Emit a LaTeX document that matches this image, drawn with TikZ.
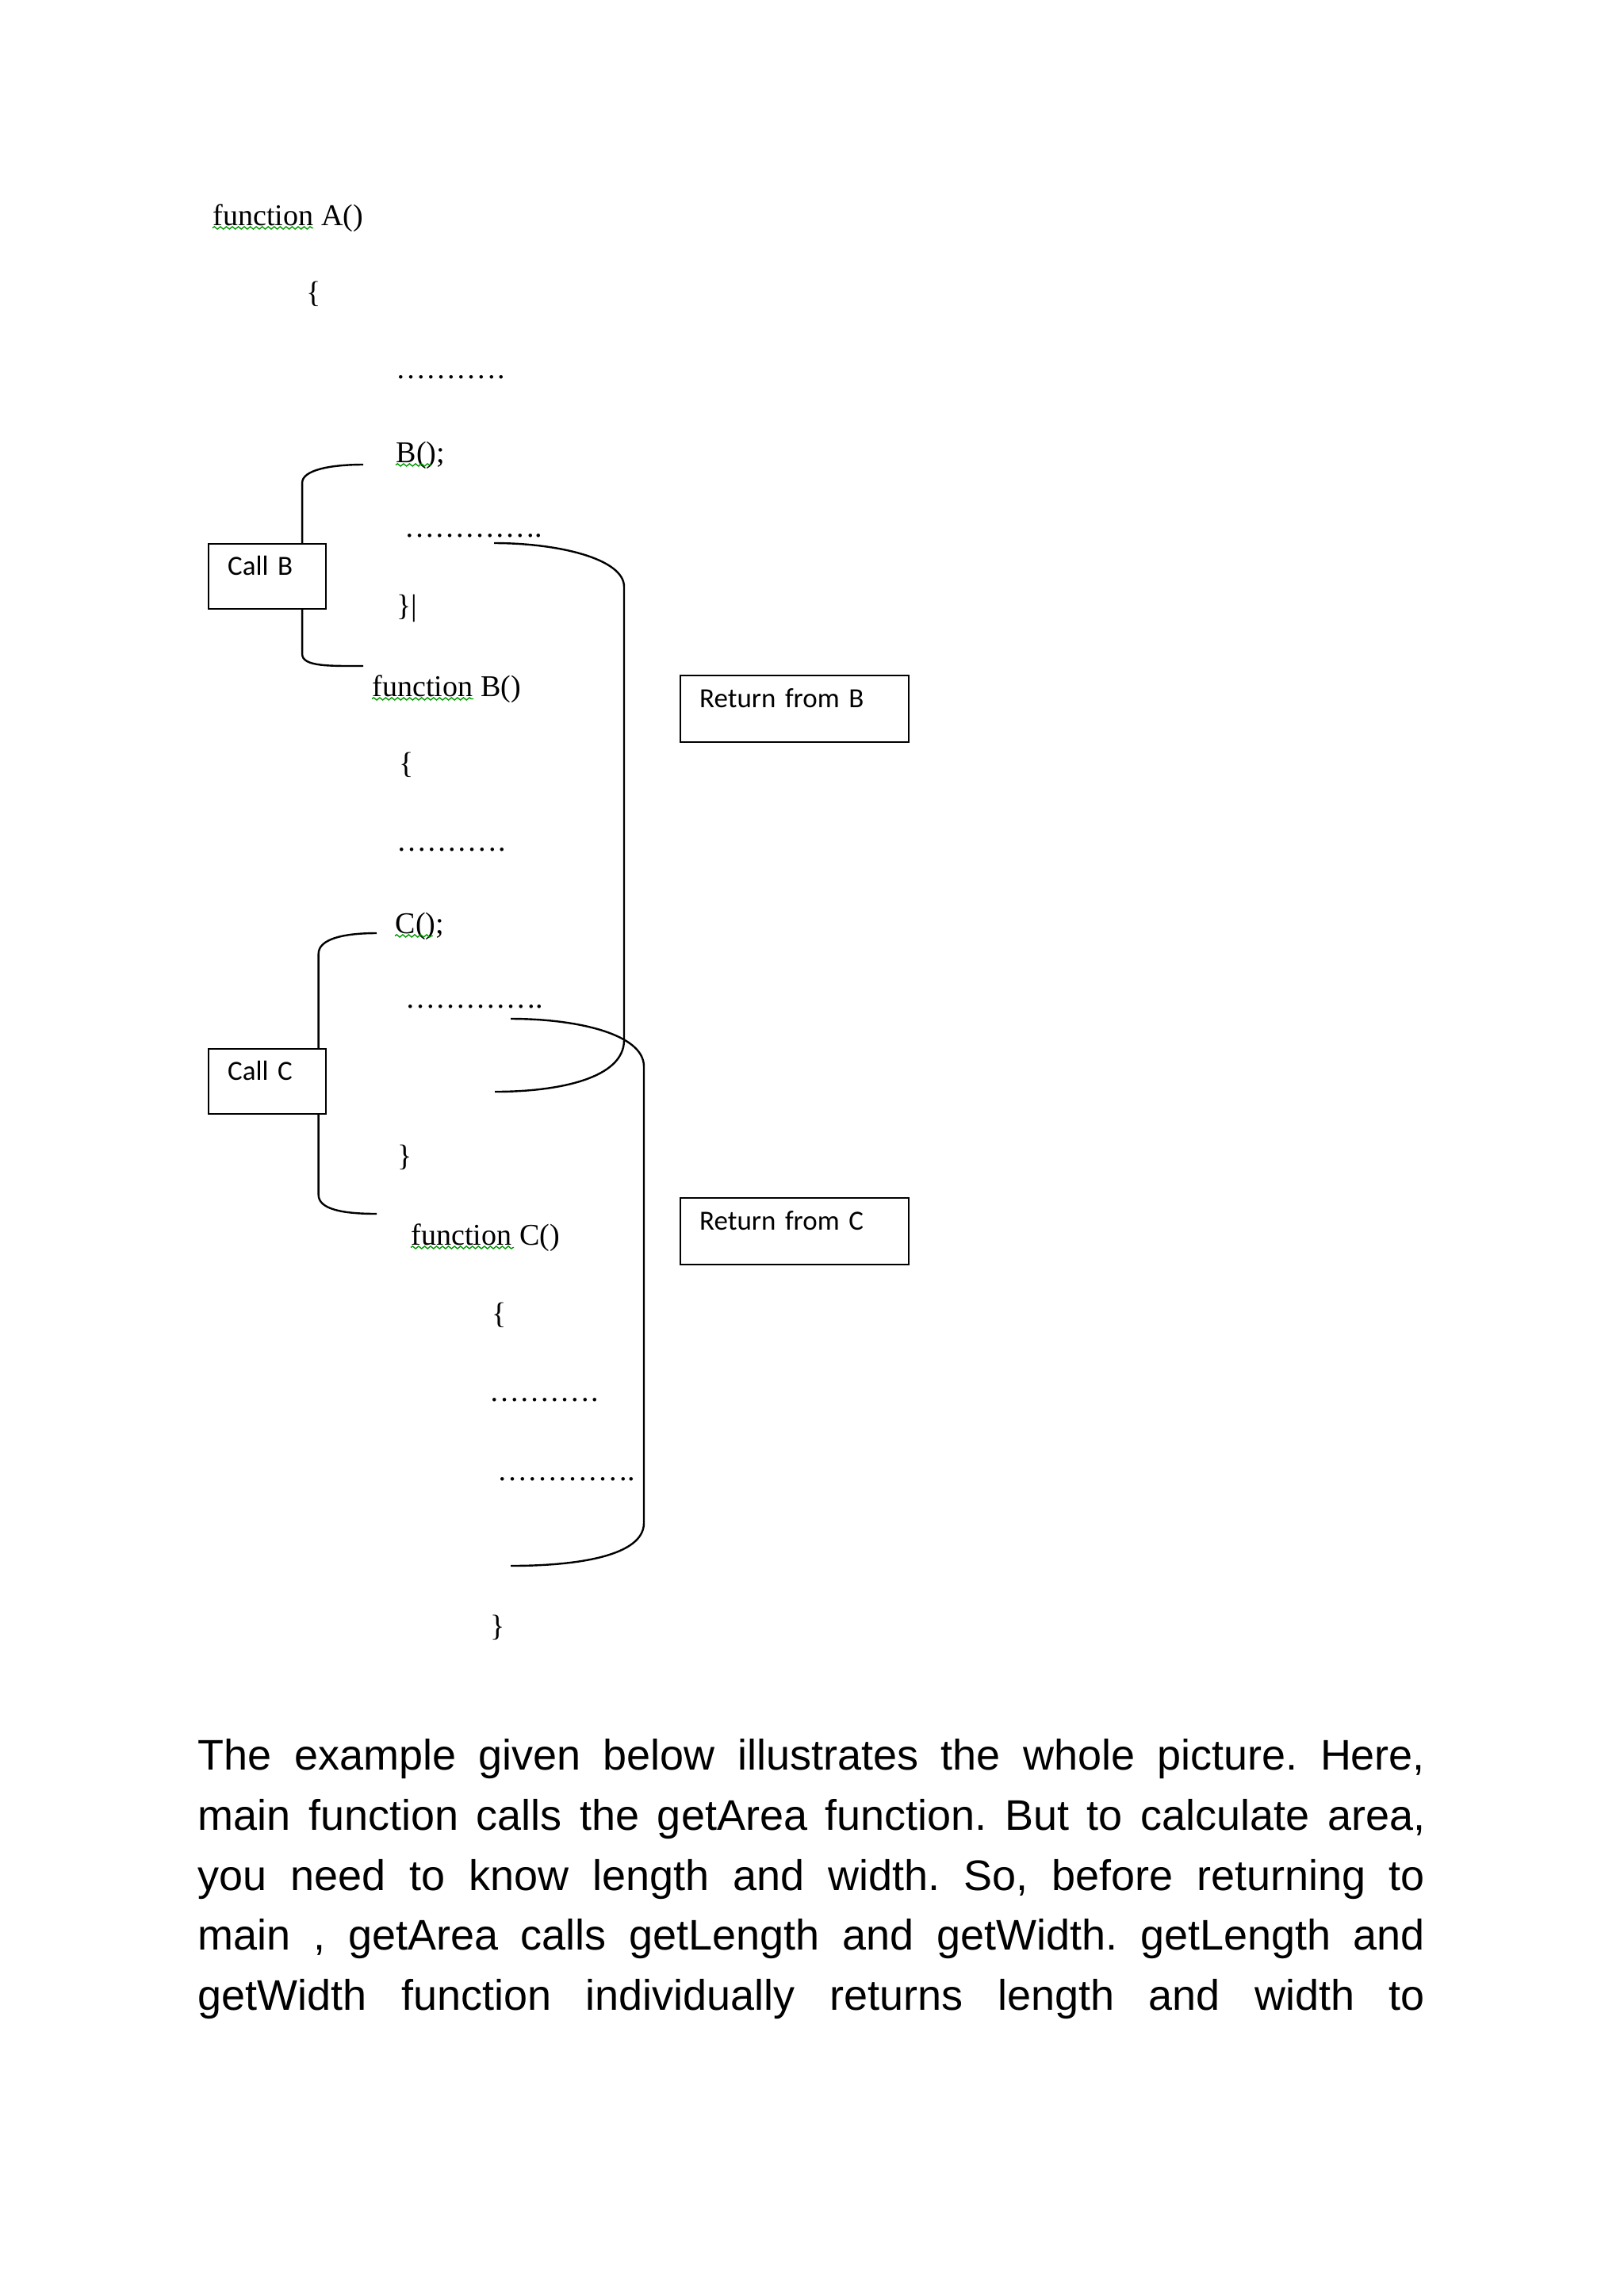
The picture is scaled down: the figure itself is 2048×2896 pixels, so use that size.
\documentclass[tikz,border=0pt]{standalone}
\usepackage{fontspec}
\setmainfont{Liberation Serif}
\newfontfamily\labelfont{Carlito}
\newfontfamily\parafont{Liberation Sans}
\usetikzlibrary{decorations.pathmorphing}

\begin{document}
\begin{tikzpicture}[x=0.010254cm, y=-0.010254cm,
code node/.style={anchor=base west, inner sep=0pt, font=\fontsize{11.1}{13}\selectfont},
label box/.style={draw, line width=0.7pt, anchor=north west, inner xsep=7pt, inner ysep=0pt, align=left, font=\labelfont\fontsize{10.2}{12}\selectfont},
call box/.style={label box, text width=29.2pt, text height=11.4pt, text depth=12.4pt},
return box/.style={label box, text width=70pt, text height=11.7pt, text depth=12.8pt},
bracket line/.style={line width=0.7pt},
spell mark/.style={green!60!black, line width=0.4pt, decorate, decoration={snake, amplitude=0.45pt, segment length=2.2pt}},
para node/.style={anchor=north west, inner sep=0pt, text width=451.5pt, align=justify, font=\parafont\fontsize{15.75}{22.08}\selectfont}]

\path[use as bounding box, fill=white] (0,0) rectangle (2048,2896);

% function A
\node[code node] (fnA) at (268, 284) {function A()};
\node[code node] (openA) at (386, 381) {\{};
\node[code node] (dotsA1) at (499, 477) {………\kern0.6pt.\kern0.6pt.};
\node[code node] (callBline) at (499, 583) {B();};
\node[code node] (dotsA2) at (510, 677) {…………\kern0.6pt..};
\node[code node] (closeA) at (500, 776) {\}|};

% function B
\node[code node] (fnB) at (469, 878) {function B()};
\node[code node] (openB) at (503, 975) {\{};
\node[code node] (dotsB1) at (500, 1073) {………\kern0.6pt.\kern0.6pt.};
\node[code node] (callCline) at (498, 1177) {C();};
\node[code node] (dotsB2) at (511, 1271) {…………\kern0.6pt..};
\node[code node] (closeB) at (501, 1470) {\}};

% function C
\node[code node] (fnC) at (518, 1570) {function C()};
\node[code node] (openC) at (620, 1669) {\{};
\node[code node] (dotsC1) at (617, 1767) {………\kern0.6pt.\kern0.6pt.};
\node[code node] (dotsC2) at (627, 1867) {…………\kern0.6pt..};
\node[code node] (closeC) at (618, 2063) {\}};

% spelling marks
\draw[spell mark] ([yshift=-1pt]fnA.base west) -- ++(127,0);
\draw[spell mark] ([yshift=-1pt]callBline.base west) -- ++(45,0);
\draw[spell mark] ([yshift=-1pt]fnB.base west) -- ++(128,0);
\draw[spell mark] ([yshift=-1pt]callCline.base west) -- ++(48,0);
\draw[spell mark] ([yshift=-1pt]fnC.base west) -- ++(130,0);

% boxes
\node[call box] (callB) at (262, 685) {Call B};
\node[call box] (callC) at (262, 1322) {Call C};
\node[return box] (retB) at (857, 851) {Return from B};
\node[return box] (retC) at (857, 1510) {Return from C};

% bracket ends
\coordinate (bTop) at (458, 586);
\coordinate (bBot) at (458, 840);
\coordinate (cTop) at (475, 1177);
\coordinate (cBot) at (475, 1531);

% return ends
\coordinate (rbStart) at (623, 685);
\coordinate (rbEnd) at (624, 1377);
\coordinate (rcStart) at (644, 1285);
\coordinate (rcEnd) at (644, 1975);

% call B
\draw[bracket line] ([xshift=12.8pt]callB.north) -- ++(0,-76) .. controls +(0,-16) and +(-42,0) .. (bTop);
\draw[bracket line] ([xshift=12.8pt]callB.south) -- ++(0,56) .. controls +(0,16) and +(-42,0) .. (bBot);

% call C
\draw[bracket line] ([xshift=18.8pt]callC.north) -- ++(0,-119) .. controls +(0,-18) and +(-44,0) .. (cTop);
\draw[bracket line] ([xshift=18.8pt]callC.south) -- ++(0,101) .. controls +(0,18) and +(-44,0) .. (cBot);

% return from B
\draw[bracket line] (rbStart) .. controls (705,685) and (787,705) .. (787,740)
  -- (787,1312) .. controls (787,1360) and (705,1377) .. (rbEnd);

% return from C
\draw[bracket line] (rcStart) .. controls (730,1285) and (812,1305) .. (812,1345)
  -- (812,1921) .. controls (812,1962) and (730,1975) .. (rcEnd);

% text below
\node[para node] (para) at (249, 2179) {\frenchspacing \parfillskip=0pt \tolerance=10000 \hbadness=10000 \hyphenpenalty=10000
\noindent\strut The example given below illustrates the whole picture. Here,\linebreak
main function calls the getArea function. But to calculate area,\linebreak
you need to know length and width. So, before returning to\linebreak
main , getArea calls getLength and getWidth. getLength and\linebreak
getWidth function individually returns length and width to\par};

\end{tikzpicture}
\end{document}
